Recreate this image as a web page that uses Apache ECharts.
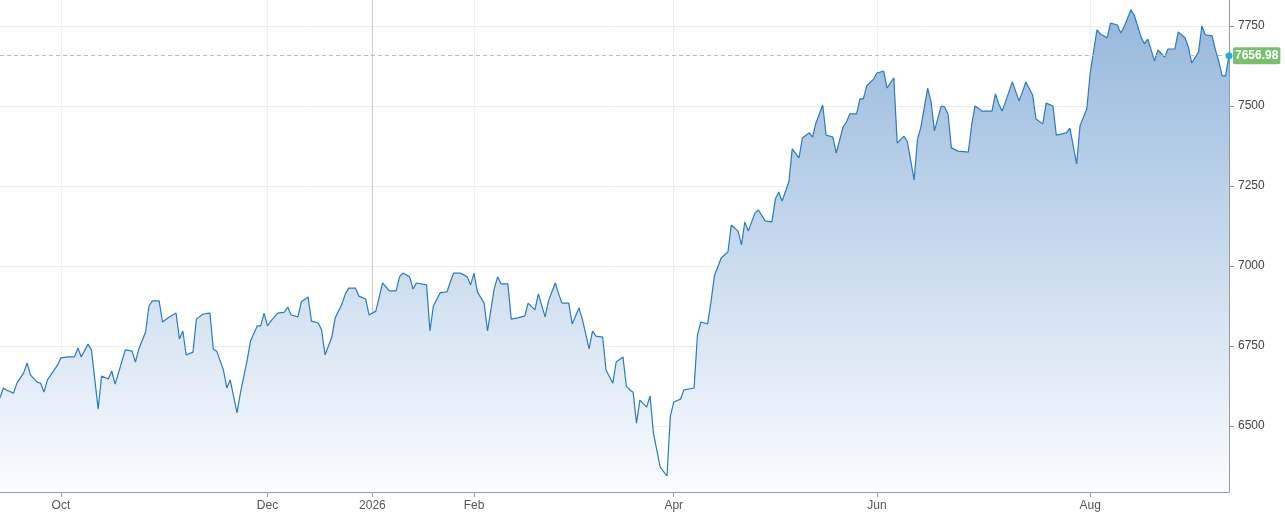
<html>
<head>
<meta charset="utf-8" />
<script src="https://cdn.jsdelivr.net/npm/echarts@6/dist/echarts.min.js"></script>
<style>
html, body, #main { width: 100%; height: 100%; margin: 0; background: #fff; }
</style>
</head>
<body>
<div id="main"></div>
<script>
// days counted from 13 Sep 2025
var days = [0,1,2,4,5,7,8,9,11,12,13,14,15,17,18,20,22,23,24,26,27,29,30,32,33,34,35,37,39,40,41,43,44,45,47,48,50,52,53,54,55,57,58,60,62,63,64,66,67,68,70,71,73,74,76,77,78,79,80,82,84,85,86,88,89,91,92,94,
  95,96,98,99,101,102,103,105,106,108,109,111,112,113,115,117,118,119,121,122,123,126,127,128,130,132,133,134,136,138,139,140,141,143,144,146,147,148,150,151,153,155,156,158,159,161,162,164,165,166,168,169,171,172,174,175,176,178,179,181,182,184,185,186,
  187,188,189,191,192,193,195,197,198,199,201,202,205,206,207,209,210,211,213,215,216,218,219,220,221,223,224,226,228,229,230,231,233,234,236,237,239,240,241,243,244,246,247,249,250,251,253,254,255,256,258,259,261,262,264,265,267,268,270,271,272,274,275,276,
  278,279,280,281,283,286,287,288,290,293,294,295,296,298,299,301,302,303,305,306,308,309,311,312,315,316,318,319,321,322,324,325,327,328,330,331,332,334,335,337,338,339,341,342,344,345,347,348,350,351,352,354,355,356,358,359,360,361,362,363];
var values = [6588,6619,6612,6603,6634,6666,6697,6659,6637,6634,6606,6644,6659,6691,6713,6716,6716,6744,6716,6756,6738,6553,6656,6647,6672,6631,6666,6738,6734,6700,6741,6794,6875,6891,6891,6825,6841,6853,6772,6797,6722,6731,6834,6850,6853,6741,6734,6675,6619,6644,6541,6603,6706,6766,6813,6813,6853,6813,6828,6853,6856,6872,6847,6841,6888,6903,6828,6822,
  6800,6722,6778,6838,6881,6913,6931,6931,6906,6897,6847,6859,6903,6947,6922,6922,6966,6978,6966,6928,6947,6941,6797,6875,6916,6919,6950,6978,6978,6966,6941,6978,6919,6884,6797,6931,6966,6944,6944,6834,6838,6844,6884,6863,6913,6841,6891,6947,6913,6884,6884,6819,6869,6834,6741,6797,6781,6778,6675,6634,6700,6716,6625,6613,
  6606,6509,6581,6559,6594,6478,6372,6344,6531,6575,6584,6613,6619,6784,6825,6819,6888,6969,7025,7044,7128,7109,7066,7138,7109,7166,7175,7141,7138,7209,7231,7203,7263,7366,7338,7400,7416,7403,7447,7503,7409,7403,7353,7434,7450,7475,7475,7522,7522,7563,7584,7603,7609,7556,7588,7384,7406,7388,7269,7397,7434,7556,7513,7422,
  7500,7497,7475,7369,7359,7356,7441,7500,7484,7484,7538,7506,7484,7544,7575,7516,7544,7575,7534,7459,7444,7509,7500,7409,7416,7431,7319,7438,7491,7603,7738,7725,7713,7759,7753,7728,7747,7800,7784,7716,7694,7709,7641,7675,7653,7678,7678,7731,7713,7684,7634,7669,7750,7722,7719,7675,7638,7594,7594,7656.98];
var tickDays = [18,79,110,140,199,259,322];
var tickLabels = ['Oct','Dec','2026','Feb','Apr','Jun','Aug'];
var yTicks = [6500,6750,7000,7250,7500,7750];
var lastValue = 7656.98;

var data = days.map(function (d, i) { return [d, values[i]]; });
var chart = echarts.init(document.getElementById('main'));

var gridLines = yTicks.map(function (v) {
  return { yAxis: v, lineStyle: { color: '#ebebeb', type: 'solid', width: 1 } };
});
tickDays.forEach(function (d, i) {
  gridLines.push({ xAxis: d, lineStyle: { color: i === 2 ? '#cccccc' : '#efefef', type: 'solid', width: 1 } });
});

chart.setOption({
  animation: false,
  grid: { left: 0, right: 56, top: 0, bottom: 25 },
  xAxis: {
    type: 'value', min: 0, max: 363,
    axisLine: { lineStyle: { color: '#999' } },
    axisTick: { customValues: tickDays, length: 5, lineStyle: { color: '#999' } },
    axisLabel: {
      customValues: tickDays, color: '#555', fontSize: 12, fontFamily: 'Arial, Liberation Sans',
      formatter: function (v) { return tickLabels[tickDays.indexOf(v)]; }
    },
    splitLine: { show: false }
  },
  yAxis: {
    type: 'value', position: 'right', min: 6294, max: 7831,
    axisLine: { show: true, onZero: false, lineStyle: { color: '#999' } },
    axisTick: { show: true, customValues: yTicks, length: 5, lineStyle: { color: '#999' } },
    axisLabel: {
      customValues: yTicks, color: '#444', fontSize: 12, margin: 9, fontFamily: 'Arial, Liberation Sans',
      formatter: function (v) { return String(v); }
    },
    splitLine: { show: false }
  },
  series: [{
    // grid lines, drawn beneath the area
    type: 'line', data: [], z: 1,
    markLine: { silent: true, z: 0, symbol: 'none', label: { show: false }, data: gridLines }
  }, {
    type: 'line',
    z: 3,
    data: data,
    symbol: 'none',
    lineStyle: { color: '#2b7bbf', width: 1.2 },
    areaStyle: {
      opacity: 1,
      color: new echarts.graphic.LinearGradient(0, 0, 0, 1, [
        { offset: 0, color: 'rgb(150,184,220)' },
        { offset: 1, color: 'rgb(250,252,255)' }
      ])
    },
    markLine: {
      silent: true, symbol: 'none', z: 4,
      data: [{
        yAxis: lastValue,
        lineStyle: { color: '#bbbbbb', type: [4, 3], width: 1 },
        label: {
          show: true, position: 'end', distance: 4,
          formatter: '7656.98', color: '#fff', fontWeight: 'bold', fontSize: 12,
          backgroundColor: '#79bf6e', padding: [3, 2, 2, 2], borderRadius: 2,
          fontFamily: 'Arial, Liberation Sans'
        }
      }]
    },
    markPoint: {
      silent: true,
      symbol: 'circle', symbolSize: 7,
      itemStyle: { color: '#23aee6' },
      label: { show: false },
      data: [{ coord: [363, lastValue] }]
    }
  }]
});
window.onresize = function () { chart.resize(); };
</script>
</body>
</html>
